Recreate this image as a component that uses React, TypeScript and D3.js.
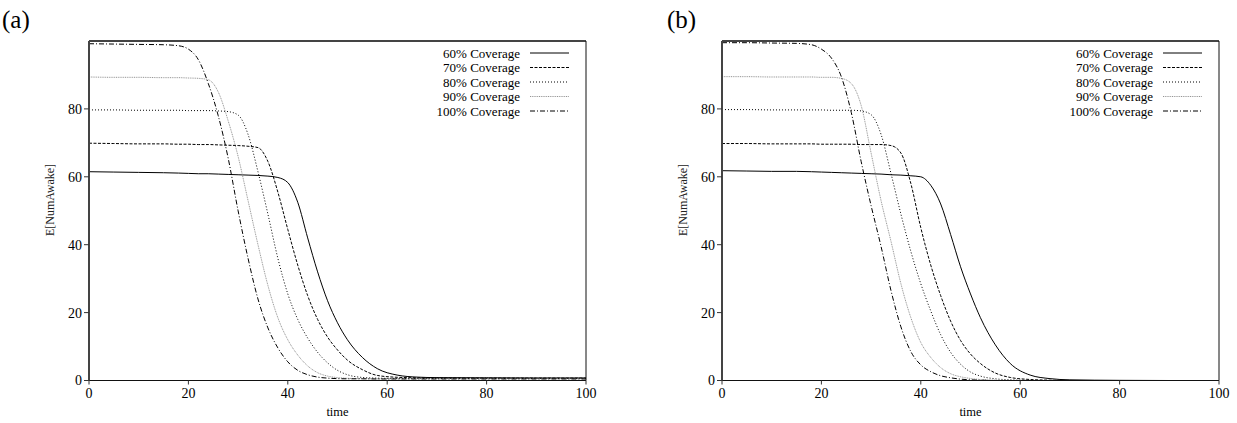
import * as d3 from 'd3';

// time grid shared by every curve
const times = [0, 5, 10, 15, 18, 20, 22, 24, 26, 28, 30, 32, 34, 36, 38, 40, 42, 44, 46, 48, 50, 52, 55, 58, 62, 66, 70, 80, 90, 100];

const seriesNames = ['60% Coverage', '70% Coverage', '80% Coverage', '90% Coverage', '100% Coverage'];

// panel (a)
const a60 = [61.5, 61.4, 61.3, 61.2, 61.1, 61.0, 60.9, 60.9, 60.8, 60.7, 60.6, 60.5, 60.4, 60.2, 59.8, 58.3, 52.5, 42, 32, 23.5, 17, 12, 6.8, 3.5, 1.6, 1.0, 0.85, 0.8, 0.75, 0.75];
const a70 = [69.9, 69.8, 69.7, 69.7, 69.6, 69.6, 69.5, 69.5, 69.4, 69.3, 69.2, 69.0, 68.6, 64.5, 55.5, 44.5, 34, 25, 18, 12.8, 9, 6, 3.2, 1.5, 0.95, 0.8, 0.75, 0.7, 0.7, 0.7];
const a80 = [79.7, 79.7, 79.6, 79.6, 79.6, 79.5, 79.5, 79.5, 79.4, 79.2, 78.2, 72.5, 61.5, 49, 36, 25.5, 18, 12.5, 8.3, 5.2, 3, 1.7, 0.9, 0.7, 0.6, 0.6, 0.6, 0.6, 0.6, 0.6];
const a90 = [89.4, 89.3, 89.3, 89.2, 89.2, 89.1, 89.0, 88.6, 85, 76.5, 66, 53, 40, 28, 18.5, 12, 7.5, 4.3, 2.3, 1.3, 0.85, 0.65, 0.55, 0.5, 0.5, 0.5, 0.5, 0.5, 0.5, 0.5];
const a100 = [99.2, 99.1, 99.0, 98.9, 98.6, 97.6, 94.5, 87.5, 78, 65.5, 50, 36, 24, 15.5, 9.6, 5.5, 3, 1.7, 1.0, 0.7, 0.55, 0.5, 0.5, 0.45, 0.45, 0.45, 0.45, 0.45, 0.45, 0.45];

// panel (b)
const b60 = [61.8, 61.7, 61.6, 61.6, 61.5, 61.4, 61.3, 61.2, 61.1, 61.0, 60.9, 60.8, 60.6, 60.5, 60.3, 60, 57.5, 52, 43, 33.5, 25.5, 18.5, 10.5, 5, 1.6, 0.55, 0.2, 0.05, 0, 0];
const b70 = [69.8, 69.8, 69.7, 69.7, 69.7, 69.6, 69.6, 69.6, 69.6, 69.5, 69.5, 69.5, 69.2, 67, 58, 45, 34, 25, 17.5, 11.8, 7.8, 5, 2.2, 0.9, 0.3, 0.1, 0, 0, 0, 0];
const b80 = [79.8, 79.8, 79.7, 79.7, 79.7, 79.7, 79.6, 79.6, 79.6, 79.4, 78.3, 72.5, 61, 49, 38, 28.5, 20.5, 13.5, 8.3, 4.8, 2.5, 1.3, 0.5, 0.2, 0.05, 0, 0, 0, 0, 0];
const b90 = [89.5, 89.5, 89.4, 89.4, 89.4, 89.3, 89.3, 89, 87.5, 81, 67, 53, 41, 28.5, 18.5, 11.2, 6.8, 3.8, 2, 1.1, 0.6, 0.3, 0.1, 0, 0, 0, 0, 0, 0, 0];
const b100 = [99.5, 99.5, 99.4, 99.3, 98.9, 97.6, 95, 89.5, 79, 64.5, 51.5, 39.5, 26.5, 15.8, 8.5, 4.6, 2.6, 1.4, 0.8, 0.4, 0.2, 0.1, 0, 0, 0, 0, 0, 0, 0, 0];

const xTicks = [0, 20, 40, 60, 80, 100];
const yTicks = [0, 20, 40, 60, 80];

const styles = [
  { stroke: '#000', width: 1, dash: '' },
  { stroke: '#000', width: 1, dash: '3,1.5' },
  { stroke: '#000', width: 1, dash: '1,2' },
  { stroke: '#888', width: 0.9, dash: '1,0.8' },
  { stroke: '#000', width: 1, dash: '5,2,1,2' },
];

const FONT = '"Liberation Serif", "Times New Roman", serif';
const W = 497;
const TOP = 41;
const BOTTOM = 380.5;

function Panel({ left, title, titleX, values }) {
  const x = d3.scaleLinear().domain([0, 100]).range([left, left + W]);
  const y = d3.scaleLinear().domain([0, 100]).range([BOTTOM, TOP]);
  const line = d3
    .line<number>()
    .x((d, i) => x(times[i]))
    .y(d => y(d))
    .curve(d3.curveMonotoneX);
  const right = left + W;

  return (
    <g>
      <text x={titleX} y={28} fontSize={25} fontFamily={FONT}>{title}</text>

      {values.map((v, i) => (
        <path key={i} d={line(v)} fill="none" stroke={styles[i].stroke}
          strokeWidth={styles[i].width} strokeDasharray={styles[i].dash} />
      ))}

      {/* frame */}
      <line x1={left} x2={right} y1={TOP} y2={TOP} stroke="#444" strokeWidth={2} />
      <line x1={right} x2={right} y1={TOP} y2={BOTTOM} stroke="#111" strokeWidth={1} />
      <line x1={left} x2={right} y1={BOTTOM} y2={BOTTOM} stroke="#111" strokeWidth={1} />
      <line x1={left} x2={left} y1={TOP} y2={BOTTOM} stroke="#444" strokeWidth={2} />

      {xTicks.map(t => (
        <g key={t}>
          <line x1={x(t)} x2={x(t)} y1={BOTTOM} y2={BOTTOM + 4} stroke="#333" />
          <text x={x(t)} y={398} textAnchor="middle" fontSize={14} fontFamily={FONT}>{t}</text>
        </g>
      ))}
      {yTicks.map(t => (
        <g key={t}>
          <line x1={left - 5} x2={left} y1={y(t)} y2={y(t)} stroke="#333" />
          <text x={left - 7} y={y(t)} dy="0.35em" textAnchor="end" fontSize={14} fontFamily={FONT}>{t}</text>
        </g>
      ))}

      <text x={(left + right) / 2} y={416} textAnchor="middle" fontSize={12.5} fontFamily={FONT}>time</text>
      <text transform={`translate(${left - 39},200) rotate(-90)`} textAnchor="middle" dy="0.35em"
        fontSize={12} fontFamily={FONT} fill="#222">E[NumAwake]</text>

      {/* legend */}
      {seriesNames.map((name, i) => {
        const yy = 53 + i * 14.5;
        return (
          <g key={name}>
            <text x={right - 66} y={yy} dy="0.35em" textAnchor="end" fontSize={13} fontFamily={FONT}>{name}</text>
            <line x1={right - 56} x2={right - 17} y1={yy} y2={yy} stroke={styles[i].stroke}
              strokeWidth={styles[i].width} strokeDasharray={styles[i].dash} />
          </g>
        );
      })}
    </g>
  );
}

export default function App() {
  return (
    <svg width={1237} height={423} style={{ position: 'absolute', left: 0, top: 0, background: '#fff' }}>
      <rect width={1237} height={423} fill="#fff" />
      <Panel left={89} title="(a)" titleX={2} values={[a60, a70, a80, a90, a100]} />
      <Panel left={722} title="(b)" titleX={667} values={[b60, b70, b80, b90, b100]} />
    </svg>
  );
}
